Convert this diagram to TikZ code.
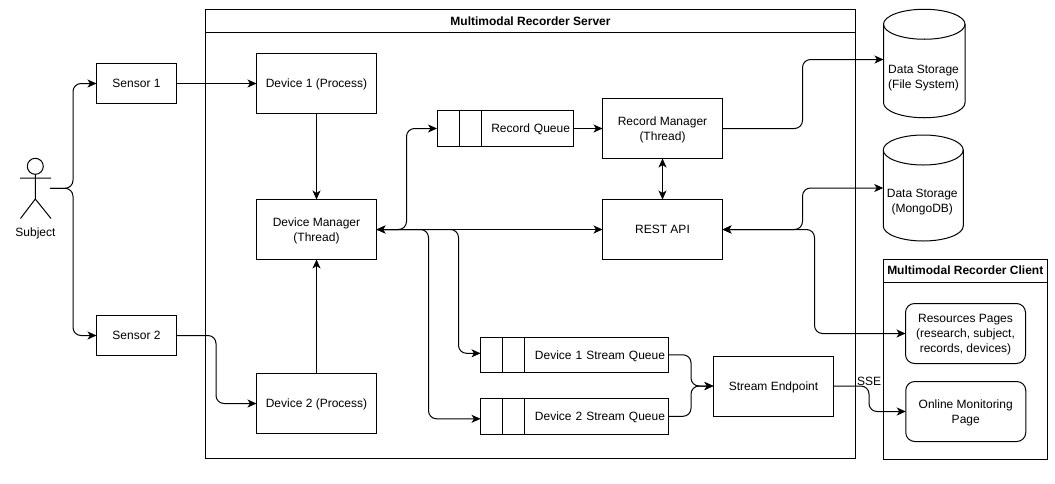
\documentclass[tikz,border=0pt]{standalone}
\usepackage{fontspec}
\setmainfont{Liberation Sans}
\usetikzlibrary{positioning, arrows.meta}

\begin{document}
\begin{tikzpicture}[
    x=1pt, y=-1pt, line width=1pt,
    every node/.style={font=\fontsize{12}{15}\selectfont, outer sep=0pt, text depth=0pt},
    box/.style={draw, rectangle, align=center, minimum width=120pt, minimum height=60pt, inner sep=0pt},
    sensorbox/.style={box, minimum width=80pt, minimum height=40pt},
    pagebox/.style={box, rounded corners=9pt, xshift=0.25pt},
    framebox/.style={draw, rectangle, inner sep=0pt},
    titlebox/.style={framebox, font=\fontsize{12}{15}\selectfont\bfseries, minimum height=23pt},
    queue/.style={draw, rectangle, align=right, inner xsep=3pt, inner ysep=0pt, minimum height=35.5pt},
    store/.style={rectangle, inner sep=0pt},
    storetext/.style={align=center, inner sep=0pt},
    line/.style={-{Stealth[length=9pt, width=8pt, inset=2.5pt]}, rounded corners=8pt},
    bidir/.style={line, {Stealth[length=9pt, width=8pt, inset=2.5pt]}-{Stealth[length=9pt, width=8pt, inset=2.5pt]}}
]
    \useasboundingbox (0,0) rectangle (1055,483);

    \node[framebox, minimum width=650pt, minimum height=448.5pt] (server) at (530.5,233.75) {};
    \node[titlebox, minimum width=650pt, below=0pt of server.north] (servertitle) {Multimodal Recorder Server};

    \node[box] (devman) at (316.5,229.5) {Device Manager\\(Thread)};
    \node[box, above=86pt of devman] (device1) {Device 1 (Process)};
    \node[box, below=114pt of devman] (device2) {Device 2 (Process)};
    \node[sensorbox, left=80pt of device1] (sensor1) {Sensor 1};
    \node[sensorbox, below=212pt of sensor1] (sensor2) {Sensor 2};

    \node[box, right=226pt of devman] (rest) {REST API};
    \node[box, above=41pt of rest] (recman) {Record Manager\\(Thread)};
    \node[queue, text width=130pt, left=29.5pt of recman] (recordq) {Record Queue};
    \node[box, below right=96.5pt and -9pt of rest] (endpoint) {Stream Endpoint};
    \node[queue, text width=181.5pt, left=45.5pt of endpoint, yshift=31.2pt] (streamq1) {Device 1 Stream Queue};
    \node[queue, text width=181.5pt, below=26pt of streamq1] (streamq2) {Device 2 Stream Queue};

    \foreach \q in {recordq, streamq1, streamq2} {
        \draw ([xshift=22pt]\q.north west) -- ([xshift=22pt]\q.south west);
        \draw ([xshift=44pt]\q.north west) -- ([xshift=44pt]\q.south west);
    }

    \node[store, minimum width=81.5pt, minimum height=108.5pt] (filestore) at (924.25,63.5) {};
    \node[store, minimum width=80pt, minimum height=106pt] (mongostore) at (923.25,188) {};
    \foreach \s/\r in {filestore/40.75, mongostore/40} {
        \draw ([yshift=-15pt]\s.north west) arc[start angle=180, end angle=0, x radius=\r pt, y radius=15pt]
            -- ([yshift=15pt]\s.south east) arc[start angle=0, end angle=-180, x radius=\r pt, y radius=15pt] -- cycle;
        \draw ([yshift=-15pt]\s.north east) arc[start angle=0, end angle=-180, x radius=\r pt, y radius=15pt];
    }
    \node[storetext, below=-53pt of filestore, xshift=-0.7pt] (filetext) {Data Storage\\(File System)};
    \node[storetext, below=-52pt of mongostore, xshift=-1pt] (mongotext) {Data Storage\\(MongoDB)};

    \node[framebox, minimum width=163.5pt, minimum height=199.5pt] (client) at (965.25,359.25) {};
    \node[titlebox, text height=6pt, minimum width=163.5pt, below=0pt of client.north] (clienttitle) {Multimodal Recorder Client};
    \node[pagebox, below=21pt of clienttitle] (resources) {Resources Pages\\(research, subject,\\records, devices)};
    \node[pagebox, below=18pt of resources] (online) {Online Monitoring\\Page};

    \node[circle, draw, minimum size=16pt, inner sep=0pt] (head) at (35.3,166.3) {};
    \coordinate (hip) at (35.3,199);
    \coordinate (armleft) at (20,178);
    \coordinate (armright) at (51,178);
    \coordinate (legleft) at (20.5,218.5);
    \coordinate (legright) at (51,218.5);
    \coordinate (subjectout) at (50,188.3);
    \node (subject) at (35.5,232) {Subject};
    \draw (head.south) -- (hip) (armleft) -- (armright) (legleft) -- (hip) -- (legright);

    \draw[line] (subjectout) -- ++(23,0) |- (sensor1.west);
    \draw[line] (subjectout) -- ++(23,0) |- (sensor2.west);
    \draw[line] (sensor1) -- (device1);
    \draw[line] (sensor2.east) -- ++(39.5,0) |- (device2.west);
    \draw[line] (device1) -- (devman);
    \draw[line] (device2) -- (devman);
    \draw[bidir] (devman.east) -- ++(30,0) |- (recordq.west);
    \draw[bidir] (devman) -- (rest);
    \draw[line] (devman.east) -- ++(82,0) |- ([yshift=1.5pt]streamq1.west);
    \draw[line] (devman.east) -- ++(52,0) |- ([yshift=-2.5pt]streamq2.west);
    \draw[line] (recordq) -- (recman);
    \draw[bidir] (recman) -- (rest);
    \draw[line] (recman.east) -- ++(80,0) |- ([yshift=4pt]filestore.west);
    \draw[bidir] (rest.east) -- ++(80,0) |- (mongostore.west);
    \draw[bidir] (rest.east) -- ++(92,0) |- (resources.west);
    \draw[line] (streamq1.east) -- ++(23,0) |- (endpoint.west);
    \draw[line] (streamq2.east) -- ++(23,0) |- (endpoint.west);
    \draw[line] (endpoint.east) -- ++(35.5,0) node[pos=1, above=1pt, inner sep=0pt] (sse) {SSE} |- (online.west);
\end{tikzpicture}
\end{document}
